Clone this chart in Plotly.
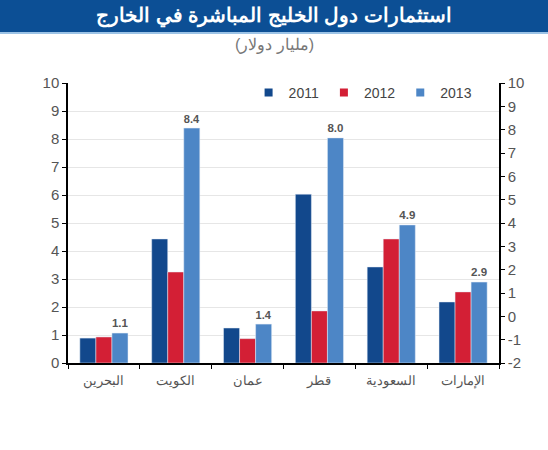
import plotly.graph_objects as go

# Gulf outward FDI, billion USD
countries = ['البحرين', 'الكويت', 'عمان', 'قطر', 'السعودية', 'الإمارات']
years = ['2011', '2012', '2013']
v2011 = [0.89, 4.43, 1.25, 6.03, 3.43, 2.18]
v2012 = [0.93, 3.25, 0.87, 1.86, 4.43, 2.54]
v2013 = [1.07, 8.39, 1.39, 8.04, 4.93, 2.89]
right_ticks = list(range(-2, 11))

colors = ['#12488c', '#d31f35', '#4d86c6']
series = [v2011, v2012, v2013]

fig = go.Figure()
for i, (yr, vals) in enumerate(zip(years, series)):
    fig.add_trace(go.Bar(
        x=countries, y=vals, name=yr, marker_color=colors[i],
        showlegend=False,
        text=vals if yr == '2013' else None,
        texttemplate='<b>%{y:.1f}</b>' if yr == '2013' else None,
        textposition='outside', cliponaxis=False,
        textfont=dict(size=13, color='#555555', family='Arial'),
    ))
    # legend entry with a small square
    fig.add_trace(go.Scatter(
        x=[None], y=[None], mode='markers', name=yr,
        marker=dict(symbol='square', size=8, color=colors[i]),
    ))

# invisible trace to bring up the right axis
fig.add_trace(go.Scatter(x=[countries[0]], y=[None], yaxis='y2',
                         showlegend=False, hoverinfo='skip'))

fig.update_layout(
    width=548, height=450,
    margin=dict(l=68, r=49, t=83, b=87),
    paper_bgcolor='white', plot_bgcolor='white',
    font=dict(family='Arial', color='#555555'),
    barmode='group', bargap=0.33, bargroupgap=0,
    xaxis=dict(
        showline=True, linecolor='black', linewidth=1.5,
        ticks='outside', tickson='boundaries', ticklen=4, tickcolor='black',
        tickfont=dict(size=13, color='#555555'), ticklabelstandoff=5,
    ),
    yaxis=dict(
        range=[0, 10], dtick=1, showline=True, linecolor='black', linewidth=1.5,
        ticks='outside', ticklen=4, tickcolor='black',
        showgrid=True, gridcolor='#e6e6e6', zeroline=False,
        tickfont=dict(size=15, color='#555555'),
    ),
    yaxis2=dict(
        range=[-2, 10], tickvals=right_ticks,
        ticktext=[str(t) for t in right_ticks],
        overlaying='y', side='right',
        showline=True, linecolor='black', linewidth=1.5,
        ticks='outside', ticklen=4, tickcolor='black',
        showgrid=False, zeroline=False,
        tickfont=dict(size=15, color='#555555'),
    ),
    legend=dict(
        orientation='h', x=0.419, y=0.965, xanchor='left', yanchor='middle',
        font=dict(size=14, color='#444444'), bgcolor='rgba(0,0,0,0)',
        itemwidth=30, tracegroupgap=0,
    ),
    shapes=[
        dict(type='rect', xref='paper', yref='paper',
             x0=-0.2, x1=1.2, y0=1 + 51 / 280, y1=1.35,
             fillcolor='#0c4f95', line_width=0, layer='above'),
        dict(type='line', xref='paper', yref='paper',
             x0=-0.2, x1=1.2, y0=1 + 50 / 280, y1=1 + 50 / 280,
             line=dict(color='#9cc3e6', width=2)),
    ],
    annotations=[
        dict(text='<b>استثمارات دول الخليج المباشرة في الخارج</b>',
             xref='paper', yref='paper', x=0.478, y=1 + 67 / 280,
             xanchor='center', yanchor='middle', showarrow=False,
             font=dict(size=20, color='white', family='Arial')),
        dict(text='(مليار دولار)',
             xref='paper', yref='paper', x=0.478, y=1 + 38 / 280,
             xanchor='center', yanchor='middle', showarrow=False,
             font=dict(size=16, color='#777777', family='Arial')),
    ],
)

# page body has a default margin; drop it so the figure sits at the top-left
fig.write_html("out.html", config={'displayModeBar': False},
               post_script="document.body.style.margin='0';")
